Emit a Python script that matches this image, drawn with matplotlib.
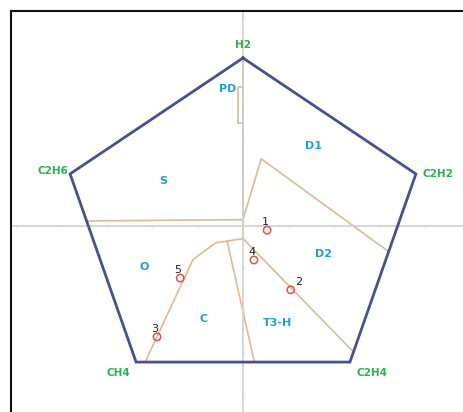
import matplotlib
matplotlib.use("Agg")
import matplotlib.pyplot as plt
from matplotlib.lines import Line2D

# Pentagon vertices (gas corners)
gas_names = ["H2", "C2H2", "C2H4", "CH4", "C2H6"]
gas_x = [0.0, 38.0, 23.5, -23.5, -38.0]
gas_y = [40.0, 12.4, -32.4, -32.4, 12.4]

# Zone boundary polylines (Duval pentagon 2)
pd_x = [0, -1, -1, 0]
pd_y = [33, 33, 24.5, 24.5]
s_bound_x = [-34.4, 0, 0]
s_bound_y = [1.2, 1.5, 40]
d1_bound_x = [0, 4, 32]
d1_bound_y = [1.5, 16, -6.1]
d2_bound_x = [0, 24.3]
d2_bound_y = [-3, -30]
o_bound_x = [0, -3.5, -6, -11, -21.5]
o_bound_y = [-3, -3.6, -4, -8, -32.4]
t3h_bound_x = [-3.5, 2.5]
t3h_bound_y = [-3.6, -32.4]
vert_bound_x = [0, 0]
vert_bound_y = [1.5, -3]

# Zone labels
zone_names = ["PD", "D1", "S", "D2", "O", "C", "T3-H"]
zone_x = [-3.3, 15.6, -17.6, 17.8, -21.8, -8.6, 7.5]
zone_y = [32.6, 19.0, 10.7, -6.7, -9.7, -22.2, -23.1]

# Sample points
pt_ids = ["1", "2", "3", "4", "5"]
pt_x = [5.3, 10.5, -18.9, 2.4, -13.8]
pt_y = [-1.0, -15.2, -26.4, -8.1, -12.4]

W, H = 464, 412
fig = plt.figure(figsize=(W / 100, H / 100), dpi=100)
fig.patch.set_facecolor("white")
left_px, top_px = 11, 11
ax = fig.add_axes([left_px / W, 0, (W - left_px) / W, (H - top_px) / H])
cx, cy = 243, 226
sx, sy = 4.55, 4.2
ax.set_xlim((left_px - cx) / sx, (W - cx) / sx)
ax.set_ylim((cy - H) / sy, (cy - top_px) / sy)

# center axes
for side in ["right", "top"]:
    ax.spines[side].set_visible(False)
ax.spines["left"].set_position(("data", 0))
ax.spines["bottom"].set_position(("data", 0))
for side in ["left", "bottom"]:
    ax.spines[side].set_color("#d0d0d0")
    ax.spines[side].set_linewidth(1.2)
ax.set_xticks(range(-50, 50, 10))
ax.set_yticks(range(-40, 60, 10))
ax.tick_params(colors="#d0d0d0", length=2, width=1, labelleft=False, labelbottom=False,
               direction="inout")

zone_color = "#e2b98f"
for xs, ys in [(pd_x, pd_y), (s_bound_x, s_bound_y), (d1_bound_x, d1_bound_y),
               (d2_bound_x, d2_bound_y), (o_bound_x, o_bound_y),
               (t3h_bound_x, t3h_bound_y), (vert_bound_x, vert_bound_y)]:
    ax.plot(xs, ys, color=zone_color, lw=1.2, zorder=2)

# pentagon
ax.plot(gas_x + gas_x[:1], gas_y + gas_y[:1], color="#44538f", lw=2, zorder=3,
        solid_joinstyle="miter")

green = "#27b34f"
gas_off = {"H2": (0, 6, "center", "bottom"), "C2H2": (5, 0, "left", "center"),
           "C2H4": (5, -4, "left", "top"), "CH4": (-4, -4, "right", "top"),
           "C2H6": (-1, 2, "right", "center")}
for n, x, y in zip(gas_names, gas_x, gas_y):
    dx, dy, ha, va = gas_off[n]
    ax.annotate(n, (x, y), xytext=(dx, dy), textcoords="offset points", ha=ha, va=va,
                color=green, fontsize=7.5, fontweight="bold", zorder=5)

blue = "#1e9fdc"
for n, x, y in zip(zone_names, zone_x, zone_y):
    ax.text(x, y, n, color=blue, fontsize=8, fontweight="bold", ha="center", va="center",
            zorder=5)

ax.scatter(pt_x, pt_y, s=28, facecolors="none", edgecolors="#e0504f", linewidths=1.1,
           zorder=6)
pt_off = {"2": (3, 2, "left", "bottom")}
for n, x, y in zip(pt_ids, pt_x, pt_y):
    dx, dy, ha, va = pt_off.get(n, (1, 2, "right", "bottom"))
    ax.annotate(n, (x, y), xytext=(dx, dy), textcoords="offset points", ha=ha, va=va,
                color="#222222", fontsize=8, zorder=6)

# black frame (left and top edges visible)
fig.add_artist(Line2D([left_px / W, left_px / W], [0, 1 - top_px / H], color="#111111", lw=1.5,
                      transform=fig.transFigure))
fig.add_artist(Line2D([left_px / W, 1], [1 - top_px / H, 1 - top_px / H], color="#111111", lw=1.5,
                      transform=fig.transFigure))

fig.savefig("out.png", dpi=100, facecolor="white")
